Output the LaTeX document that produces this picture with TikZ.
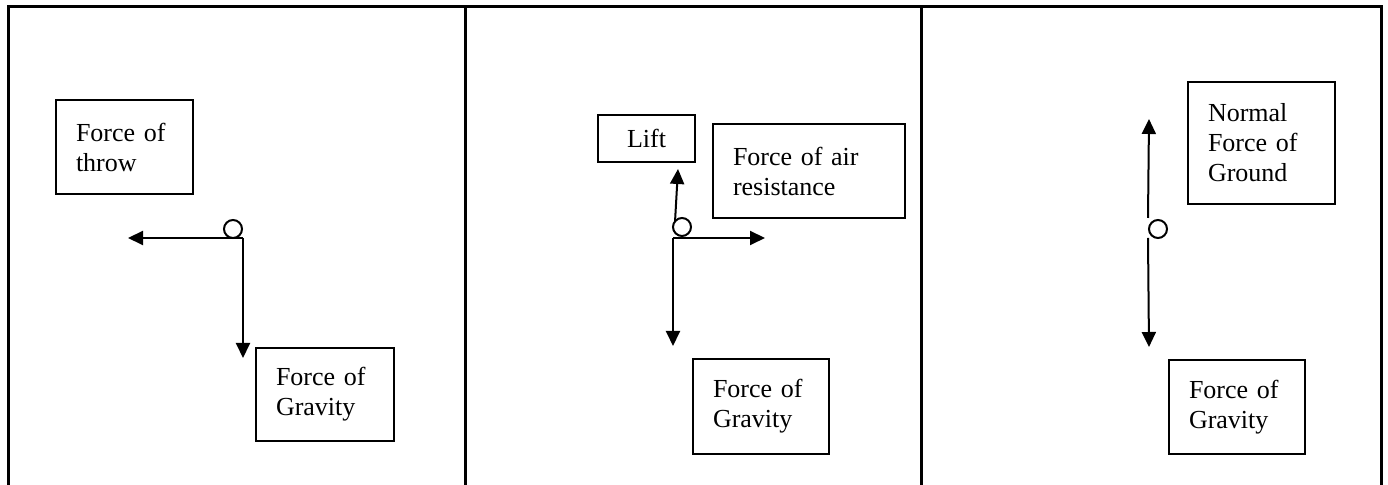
\documentclass[tikz,border=0pt]{standalone}
\usepackage{fontspec}
\setmainfont{Liberation Serif}
\usetikzlibrary{arrows.meta}

\begin{document}
\begin{tikzpicture}[x=0.5pt, y=-0.5pt,
    forceLabel/.style={draw=borderColour, line width=1pt, anchor=north west, align=left,
        inner xsep=10pt, inner ysep=0pt, font=\fontsize{13pt}{15pt}\selectfont},
    forceArrow/.style={draw=borderColour, line width=1pt, -{Triangle[length=7.5pt, width=7pt]}},
    particle/.style={circle, draw=borderColour, line width=1pt, fill=white,
        minimum size=9pt, inner sep=0pt}]

    \definecolor{borderColour}{HTML}{000000}

    % Fix the canvas
    \useasboundingbox (0,0) rectangle (1388,485);

    % Draw table frame
    \draw[borderColour, line width=1.5pt] (8,485) -- (8,7) -- (1381,7) -- (1381,485);
    \foreach \x in {465, 921}
        \draw[borderColour, line width=1.5pt] (\x,7) -- (\x,485);

    % Thrown ball
    \coordinate (throwOrigin) at (243,238);
    \coordinate (throwTip) at (128,238);
    \coordinate (throwDown) at (243,358);
    \node[forceLabel, text width=48.5pt, minimum height=47pt] (throwBox) at (55,99) {Force of\\throw};
    \node[forceLabel, text width=49pt, minimum height=46.5pt] (gravityA) at (255,347) {Force of\\Gravity};
    \draw[forceArrow] (throwOrigin) -- (throwTip);
    \draw[forceArrow] (throwOrigin) -- (throwDown);
    \node[particle] (ballA) at (233,229) {};

    % Ball in flight
    \coordinate (flightOrigin) at (673,238);
    \coordinate (flightRight) at (765,238);
    \coordinate (flightDown) at (673,346);
    \coordinate (liftStart) at (675,222);
    \coordinate (liftTip) at (678,169);
    \node[forceLabel, align=center, text width=28.5pt, minimum height=23.5pt] (liftBox) at (597,114) {Lift};
    \node[forceLabel, text width=76pt, minimum height=47pt] (airBox) at (712,123) {Force of air\\resistance};
    \node[forceLabel, text width=48pt, minimum height=47.5pt] (gravityB) at (692,358) {Force of\\Gravity};
    \draw[forceArrow] (flightOrigin) -- (flightRight);
    \draw[forceArrow] (flightOrigin) -- (flightDown);
    \draw[forceArrow] (liftStart) -- (liftTip);
    \node[particle] (ballB) at (682,227) {};

    % Ball on the ground
    \coordinate (groundUp) at (1149,119);
    \coordinate (groundDown) at (1149,347);
    \node[particle] (ballC) at (1158,229) {};
    \node[forceLabel, text width=53.5pt, minimum height=61pt] (normalBox) at (1187,81) {Normal\\Force of\\Ground};
    \node[forceLabel, text width=48pt, minimum height=47pt] (gravityC) at (1168,359) {Force of\\Gravity};
    \draw[forceArrow] (ballC.west) ++(0,-11) -- (groundUp);
    \draw[forceArrow] (ballC.west) ++(0,9) -- (groundDown);

\end{tikzpicture}
\end{document}
